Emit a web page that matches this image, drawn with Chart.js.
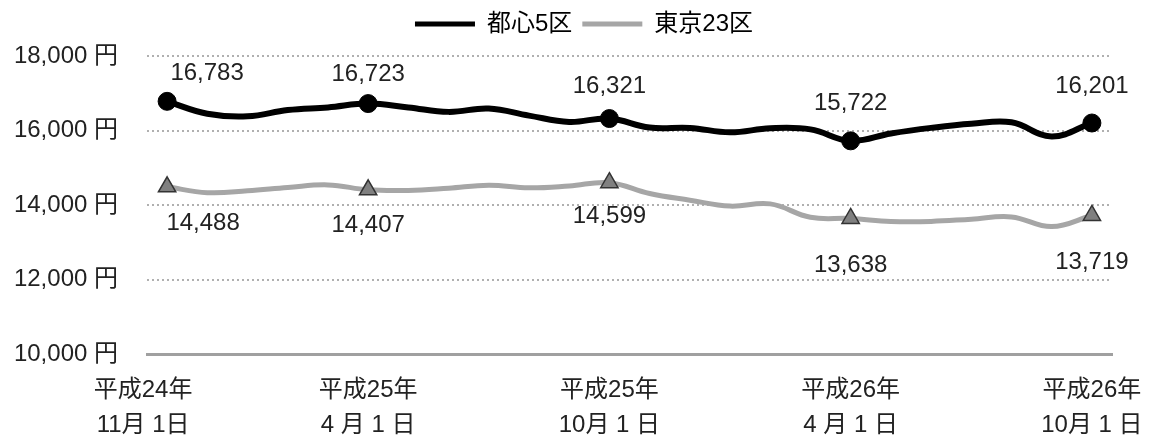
<!DOCTYPE html>
<html>
<head>
<meta charset="utf-8">
<script src="https://cdn.jsdelivr.net/npm/chart.js@4.4.0/dist/chart.umd.min.js"></script>
<style>
  html, body { margin: 0; padding: 0; background: #fff; }
  #wrap { width: 1150px; height: 441px; }
</style>
</head>
<body>
<div id="wrap"><canvas id="myChart"></canvas></div>
<script>
// monthly points, H24/11 .. H26/10
var months = ['H24.11', 'H24.12', 'H25.1', 'H25.2', 'H25.3', 'H25.4', 'H25.5', 'H25.6',
    'H25.7', 'H25.8', 'H25.9', 'H25.10', 'H25.11', 'H25.12', 'H26.1', 'H26.2', 'H26.3',
    'H26.4', 'H26.5', 'H26.6', 'H26.7', 'H26.8', 'H26.9', 'H26.10'];
var toshin5 = [16783, 16450, 16380, 16550, 16620, 16723, 16620, 16500, 16590, 16400, 16230, 16321,
    16080, 16070, 15950, 16060, 16030, 15722, 15920, 16070, 16180, 16220, 15840, 16201];
var tokyo23 = [14488, 14330, 14380, 14470, 14540, 14407, 14390, 14450, 14530, 14460, 14510, 14599,
    14310, 14130, 13970, 14030, 13670, 13638, 13560, 13560, 13620, 13680, 13420, 13719];
var seriesNames = ['都心5区', '東京23区'];
var markerIdx = [0, 5, 11, 17, 23];
var tickText = [
    ['平成24年', '11月 1日'],
    ['平成25年', '4 月 1 日'],
    ['平成25年', '10月 1 日'],
    ['平成26年', '4 月 1 日'],
    ['平成26年', '10月 1 日']
];

var FONT = "'Liberation Sans', 'Noto Sans CJK JP', sans-serif";

function isMarker(ctx) { return markerIdx.indexOf(ctx.dataIndex) >= 0; }

var valueLabels = {
    id: 'valueLabels',
    afterDatasetsDraw: function (chart, args, opts) {
        var c = chart.ctx;
        c.save();
        c.font = '24px ' + FONT;
        c.fillStyle = '#222';
        c.textAlign = 'center';
        c.textBaseline = 'middle';
        chart.data.datasets.forEach(function (ds, d) {
            var meta = chart.getDatasetMeta(d);
            markerIdx.forEach(function (i, k) {
                var pt = meta.data[i];
                var off = opts.offsets[d][k];
                c.fillText(ds.data[i].toLocaleString('en-US'), pt.x + off[0], pt.y + off[1]);
            });
        });
        c.restore();
    }
};

// fixed legend band height, legend centred a bit right of the canvas middle
var legendBox = {
    id: 'legendBox',
    beforeInit: function (chart) {
        var fit = chart.legend.fit;
        chart.legend.fit = function () {
            fit.call(this);
            this.height = 54;
        };
    },
    afterLayout: function (chart) {
        chart.legend.left = 56;
    }
};

var ctx = document.getElementById('myChart');
var myChart = new Chart(ctx, {
    type: 'line',
    data: {
        labels: months,
        datasets: [{
            label: seriesNames[0],
            data: toshin5,
            borderColor: '#000',
            backgroundColor: '#000',
            borderWidth: 6,
            tension: 0.4,
            pointStyle: 'circle',
            pointRadius: function (c) { return isMarker(c) ? 9 : 0; },
            pointBackgroundColor: '#000',
            pointBorderColor: '#000',
            pointBorderWidth: 1
        }, {
            label: seriesNames[1],
            data: tokyo23,
            borderColor: '#a6a6a6',
            backgroundColor: '#a6a6a6',
            borderWidth: 5,
            tension: 0.4,
            pointStyle: 'triangle',
            pointRadius: function (c) { return isMarker(c) ? 10 : 0; },
            pointBackgroundColor: '#808080',
            pointBorderColor: '#333',
            pointBorderWidth: 1.5
        }]
    },
    options: {
        responsive: true,
        maintainAspectRatio: false,
        animation: false,
        layout: { padding: { left: 0, right: 38, top: 2, bottom: 0 } },
        plugins: {
            tooltip: { enabled: false },
            legend: {
                display: true,
                position: 'top',
                labels: {
                    font: { family: FONT, size: 24 },
                    color: '#222',
                    padding: 10,
                    usePointStyle: true,
                    pointStyleWidth: 60,
                    generateLabels: function (chart) {
                        return chart.data.datasets.map(function (ds, i) {
                            return {
                                text: ds.label,
                                datasetIndex: i,
                                fillStyle: ds.borderColor,
                                strokeStyle: ds.borderColor,
                                lineWidth: 5,
                                pointStyle: 'line',
                                hidden: false
                            };
                        });
                    }
                }
            },
            valueLabels: {
                offsets: [
                    [[40, -28], [0, -29], [0, -32], [0, -37], [0, -37]],
                    [[36, 37], [0, 36], [0, 34], [0, 47], [0, 47]]
                ]
            }
        },
        scales: {
            x: {
                offset: true,
                grid: { display: false, drawTicks: false },
                border: { display: true, color: '#a0a0a0', width: 3 },
                afterFit: function (s) {
                    s.height = 87;
                    s.paddingLeft = 0;
                    s.paddingRight = 0;
                },
                ticks: {
                    autoSkip: false,
                    maxRotation: 0,
                    padding: 19,
                    color: '#222',
                    font: { family: FONT, size: 24, lineHeight: 1.45 },
                    callback: function (v, i) {
                        var k = markerIdx.indexOf(i);
                        if (k < 0) return '';
                        // the first label sits a little left of its point
                        return k === 0 ? tickText[k].map(function (t) { return t + '\u3000\u3000'; }) : tickText[k];
                    }
                }
            },
            y: {
                min: 10000,
                max: 18000,
                afterFit: function (s) { s.width = 147; },
                grid: {
                    drawTicks: false,
                    color: function (c) { return c.tick.value === 10000 ? 'rgba(0,0,0,0)' : '#b0b0b0'; },
                    lineWidth: 2
                },
                border: { display: false, dash: [2, 3] },
                ticks: {
                    stepSize: 2000,
                    padding: 29,
                    color: '#222',
                    font: { family: FONT, size: 24 },
                    callback: function (v) { return v.toLocaleString('en-US') + ' 円'; }
                }
            }
        }
    },
    plugins: [valueLabels, legendBox]
});
</script>
</body>
</html>
